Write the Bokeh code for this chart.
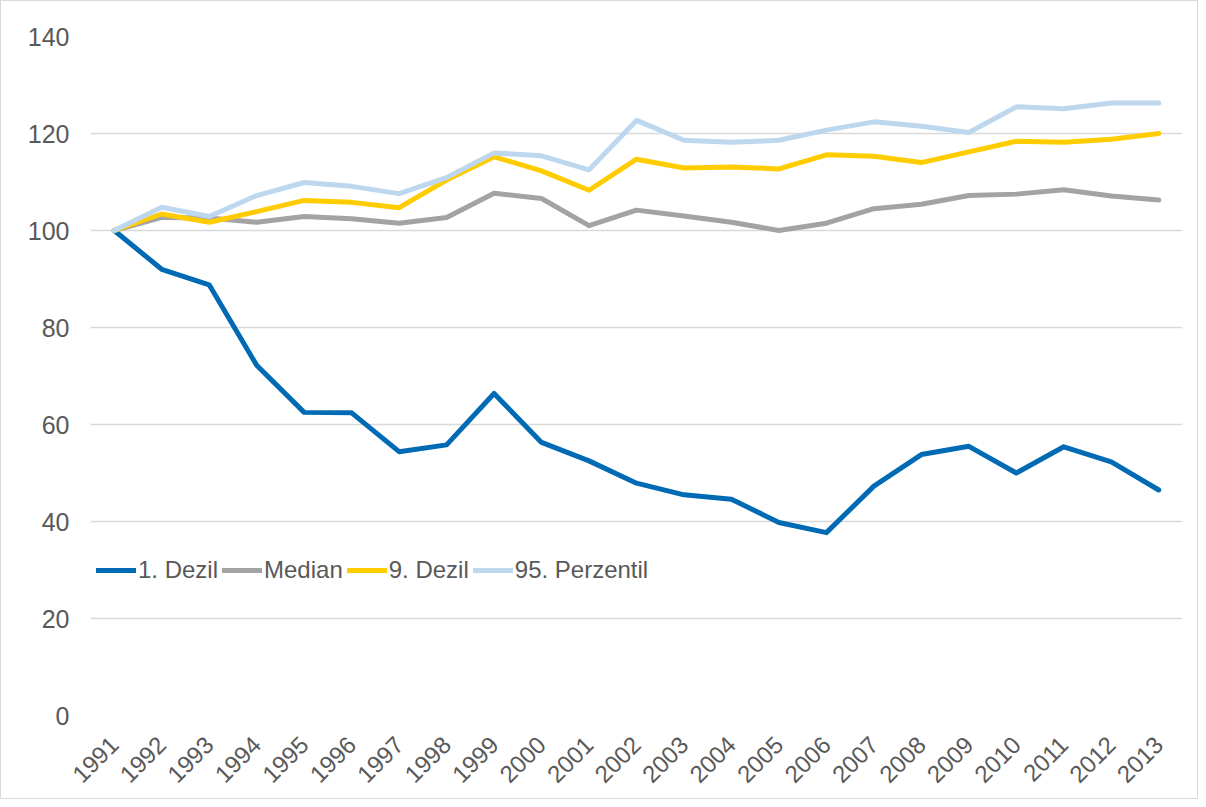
from bokeh.plotting import figure
from bokeh.models import ColumnDataSource, Legend, LegendItem, FixedTicker, Range1d
from bokeh.embed import file_html
from bokeh.resources import INLINE
import math

years = [str(y) for y in range(1991, 2014)]

dezil1 = [100, 92.0, 88.8, 72.2, 62.5, 62.4, 54.4, 55.8, 66.4, 56.3, 52.5, 47.9, 45.5, 44.6,
          39.8, 37.7, 47.3, 53.8, 55.5, 50.0, 55.4, 52.3, 46.5]
median = [100, 102.7, 102.6, 101.7, 102.9, 102.4, 101.5, 102.7, 107.7, 106.6, 101.0, 104.2,
          103.0, 101.7, 100.0, 101.5, 104.5, 105.4, 107.2, 107.5, 108.4, 107.1, 106.3]
dezil9 = [100, 103.4, 101.7, 103.9, 106.2, 105.8, 104.7, 110.4, 115.2, 112.3, 108.3, 114.7,
          112.9, 113.1, 112.7, 115.6, 115.3, 114.0, 116.2, 118.4, 118.2, 118.8, 120.0]
perz95 = [100, 104.8, 102.9, 107.2, 109.9, 109.1, 107.6, 110.9, 116.0, 115.4, 112.5, 122.7,
          118.6, 118.2, 118.6, 120.7, 122.4, 121.5, 120.2, 125.5, 125.1, 126.3, 126.3]

series_names = ["1. Dezil", "Median", "9. Dezil", "95. Perzentil"]
series_values = [dezil1, median, dezil9, perz95]
series_colors = ["#006BB4", "#A3A3A3", "#FFCC00", "#BDD7EE"]
y_ticks = [0, 20, 40, 60, 80, 100, 120, 140]

src = ColumnDataSource(dict(x=years, d1=dezil1, med=median, d9=dezil9, p95=perz95))
cols = ["d1", "med", "d9", "p95"]

p = figure(x_range=years, y_range=Range1d(0, 140), width=1198, height=799,
           output_backend="svg", toolbar_location=None,
           min_border_left=89, min_border_right=17, min_border_top=35, min_border_bottom=85)
p.styles = {"border": "1px solid #d9d9d9", "box-sizing": "border-box"}
p.outline_line_color = None
p.background_fill_color = "white"
p.border_fill_color = "white"

renderers = []
for col, c in zip(cols, series_colors):
    r = p.line("x", col, source=src, line_color=c, line_width=5, line_join="round", line_cap="round")
    renderers.append(r)

p.xgrid.grid_line_color = None
p.ygrid.grid_line_color = "#d9d9d9"
p.ygrid.grid_line_width = 1.5
p.yaxis.ticker = FixedTicker(ticks=y_ticks)

for ax in (p.xaxis[0], p.yaxis[0]):
    ax.axis_line_color = None
    ax.major_tick_line_color = None
    ax.minor_tick_line_color = None
    ax.major_label_text_color = "#595959"
    ax.major_label_text_font = "Liberation Sans"
    ax.major_label_text_font_size = "25px"

p.yaxis.major_label_standoff = 15
p.xaxis.major_label_orientation = math.pi / 4
p.xaxis.major_label_standoff = 19
p.xaxis.major_label_text_font_size = "24px"

legend = Legend(items=[LegendItem(label=n, renderers=[r]) for n, r in zip(series_names, renderers)],
                orientation="horizontal", location=(6, 131),
                label_text_font="Liberation Sans", label_text_font_size="24px",
                label_text_color="#595959", glyph_width=40, label_standoff=2, spacing=4,
                background_fill_alpha=0, border_line_color=None, padding=5, margin=0)
p.add_layout(legend, "center")

open("out.html", "w").write(file_html(p, INLINE))
